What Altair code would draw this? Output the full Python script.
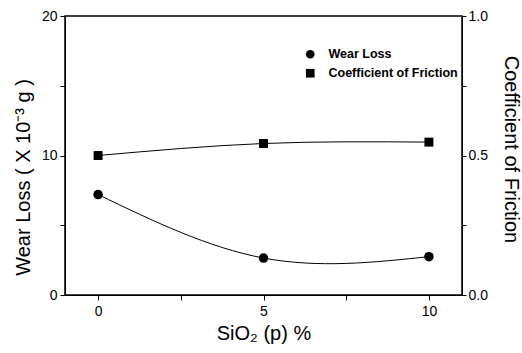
import altair as alt
import pandas as pd

sio2 = [0, 5, 10]
wear_loss = [7.2, 2.65, 2.75]
friction = [0.50, 0.543, 0.548]
series_names = ["Wear Loss", "Coefficient of Friction"]

df = pd.DataFrame({"x": sio2, "wear": wear_loss, "fric": friction})

FONT = "Liberation Sans"

x_enc = alt.X(
    "x:Q",
    scale=alt.Scale(domain=[-1, 11], nice=False, zero=False),
    axis=alt.Axis(
        title="SiO\u2082 (p) %",
        values=[0, 2.5, 5, 7.5, 10],
        labelExpr="datum.value % 5 == 0 ? format(datum.value, 'd') : ''",
        grid=False, domainColor="black", tickColor="black", tickSize=5,
        labelFont=FONT, labelFontSize=14, labelColor="black", labelPadding=4,
        titleFont=FONT, titleFontSize=20, titleFontWeight="normal", titleColor="black",
        titlePadding=5,
    ),
)

shape_enc = alt.Shape(
    "series:N",
    scale=alt.Scale(domain=series_names, range=["circle", "square"]),
    legend=alt.Legend(
        title=None, orient="none", legendX=239, legendY=32,
        labelFont=FONT, labelFontSize=12.5, labelFontWeight="bold", labelColor="black",
        symbolFillColor="black", symbolStrokeColor="black", symbolSize=75,
        rowPadding=3, labelOffset=12,
    ),
)

y_left = alt.Y(
    "wear:Q",
    scale=alt.Scale(domain=[0, 20], nice=False),
    axis=alt.Axis(
        title="Wear Loss ( X 10\u207b\u00b3 g )",
        values=[0, 5, 10, 15, 20],
        labelExpr="datum.value % 10 == 0 ? datum.label : ''",
        grid=False, domainColor="black", tickColor="black", tickSize=5,
        labelFont=FONT, labelFontSize=14, labelColor="black", labelPadding=3,
        titleFont=FONT, titleFontSize=20, titleFontWeight="normal", titleColor="black",
        titleAngle=-90, titleBaseline="middle", titleAlign="center", titleX=-42, titleY=161,
    ),
)

y_right = alt.Y(
    "fric:Q",
    scale=alt.Scale(domain=[0, 1], nice=False),
    axis=alt.Axis(
        orient="right",
        title="Coefficient of Friction",
        values=[0, 0.25, 0.5, 0.75, 1.0],
        labelExpr="(datum.value * 2) % 1 == 0 ? format(datum.value, '.1f') : ''",
        grid=False, domainColor="black", tickColor="black", tickSize=4,
        labelFont=FONT, labelFontSize=14, labelColor="black", labelPadding=2,
        titleFont=FONT, titleFontSize=20, titleFontWeight="normal", titleColor="black",
        titleAngle=90, titleBaseline="middle", titleAlign="center", titleX=48, titleY=133,
    ),
)

base = alt.Chart(df)

wear_line = base.mark_line(interpolate="natural", color="black", strokeWidth=1).encode(x=x_enc, y=y_left)
wear_pts = base.transform_calculate(series="'Wear Loss'").mark_point(
    filled=True, color="black", size=90, opacity=1
).encode(x=x_enc, y=y_left, shape=shape_enc)

fric_line = base.mark_line(interpolate="natural", color="black", strokeWidth=1).encode(x=x_enc, y=y_right)
fric_pts = base.transform_calculate(series="'Coefficient of Friction'").mark_point(
    filled=True, color="black", size=80, opacity=1
).encode(x=x_enc, y=y_right, shape=shape_enc)

left = alt.layer(wear_line, wear_pts)
right = alt.layer(fric_line, fric_pts)

chart = alt.layer(left, right).resolve_scale(y="independent").properties(
    width=397, height=279,
    autosize=alt.AutoSizeParams(type="none"),
    padding={"left": 65, "top": 16, "right": 60, "bottom": 58},
    background="white",
).configure_view(stroke="black", strokeWidth=1.5)

chart.save("out.html", embed_options={"renderer": "svg", "actions": False})
